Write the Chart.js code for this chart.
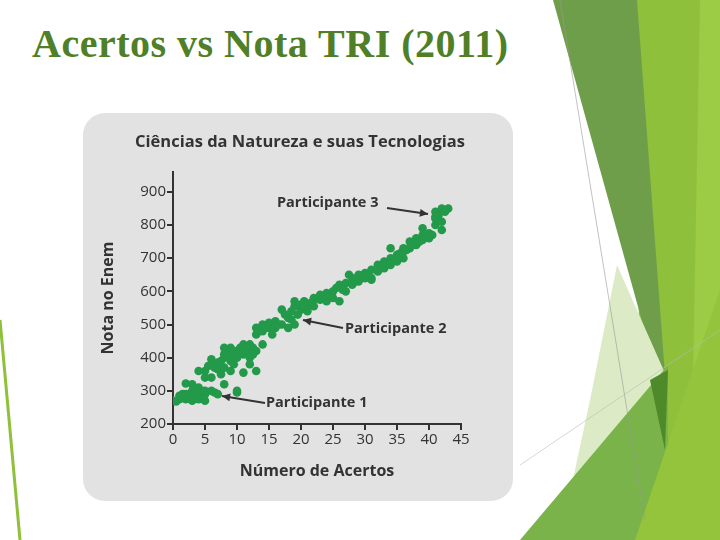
<!DOCTYPE html>
<html><head><meta charset="utf-8">
<script src="https://cdn.jsdelivr.net/npm/chart.js@4/dist/chart.umd.min.js"></script>
<style>
html,body{margin:0;padding:0;background:#fff;width:720px;height:540px;overflow:hidden;position:relative;font-family:"Open Sans",sans-serif}
#bg{position:absolute;left:0;top:0}
#title{position:absolute;left:32px;top:20px;font-family:"Liberation Serif","DejaVu Serif",serif;font-weight:bold;font-size:40px;color:#4f7f27;white-space:nowrap;letter-spacing:0.5px}
#box{position:absolute;left:83px;top:113px;width:430px;height:388px;background:#e2e2e2;border-radius:22px}
#wrap{position:absolute;left:83px;top:113px;width:430px;height:388px}
</style></head><body>
<svg id="bg" width="720" height="540">
<polygon points="637,0 720,0 720,540 640,540" fill="#8fc03c"/>
<polygon points="700,0 720,0 720,540 690,540" fill="#9ccb45"/>
<polygon points="553,0 637,0 668,415" fill="#6f9e4a"/>
<polygon points="617,265 668,380 640,470 560,540 590,400" fill="#dcebc5"/>
<polygon points="520,540 668,365 668,540" fill="#79b349"/>
<polygon points="635,540 720,290 720,540" fill="#93c43c"/>
<polygon points="650,380 668,370 665,450" fill="#4f8a2a"/>
<line x1="560" y1="0" x2="645" y2="520" stroke="#999" stroke-width="0.6"/>
<line x1="520" y1="465" x2="720" y2="330" stroke="#bbb" stroke-width="0.6"/>
<line x1="0" y1="320" x2="20" y2="540" stroke="#8fc03c" stroke-width="3"/>
</svg>
<div id="title">Acertos vs Nota TRI (2011)</div>
<div id="box"></div>
<div id="wrap"><canvas id="c" width="430" height="388"></canvas></div>
<script>
const acertos=[0,0.5,1,1,1.5,2,2,2.5,2,3,3,3,3.5,4,4,4,4.5,5,5,5,4,5,5,5.5,6,6,6,6.5,7,7,7,7.5,8,8,8,8,8.5,9,9,9,9,9.5,10,10,10,10,10.5,11,11,11,11.5,12,12,12,12.5,13,13,13,13,13.5,14,14,14,15,15,15.5,16,16,17,17,17.5,18,18,18.5,19,19,19,19.5,20,20,20.5,21,21,22,22,22,23,23,24,24,25,25,25.5,26,26,27,27,27.5,28,28,29,29,30,30,31,31,31,32,32,33,33,34,34,34,35,35,36,36,36,37,37,38,38,39,39,39,40,40,41,41,41,41.5,42,42,42,43,42.5,
 1.5,3.5,6.5,7.5,8.5,9.5,10.5,11.5,12.5,14.5,16.5,18.5,20.5,21.5,23.5,24.5,26.5,28.5,29.5,30.5,32.5,33.5,35.5,36.5,37.5,38.5,40.5,41,9,11,6,8];
const notas=[270,268,275,285,280,290,275,285,322,320,300,270,280,290,275,310,300,270,290,300,360,360,340,375,380,340,300,295,290,385,365,350,400,430,320,370,420,430,410,390,360,380,300,295,420,400,430,440,410,355,420,440,400,380,430,420,360,470,490,480,500,440,480,505,490,470,510,490,545,500,530,520,490,540,570,555,500,530,560,545,570,560,540,575,580,555,575,590,595,570,600,580,610,570,620,625,600,650,640,620,650,630,655,640,665,640,635,680,660,690,670,700,680,730,710,690,730,720,700,750,730,760,740,770,755,790,775,760,820,800,840,830,810,785,850,850,840,
 290,295,370,390,410,420,415,430,410,495,500,515,555,565,585,590,605,630,645,650,670,685,715,725,740,750,770,825,400,425,395,410];
const xTicks=[0,5,10,15,20,25,30,35,40,45];
const yTicks=[200,300,400,500,600,700,800,900];
const labels=[
 {text:'Participante 3',tx:277,ty:203,ax:[387,208],bx:[428,214]},
 {text:'Participante 2',tx:345,ty:329,ax:[343,328],bx:[303,320]},
 {text:'Participante 1',tx:266,ty:403,ax:[265,403],bx:[222,396]}
];
const pts=acertos.map((x,i)=>({x:x,y:notas[i]}));
const ink='#333';
const F='"Open Sans",sans-serif';
const annot={id:'annot',afterDatasetsDraw(ch){
 const c=ch.ctx;c.save();
 c.fillStyle=ink;c.font='bold 16.5px '+F;c.textAlign='center';c.textBaseline='middle';
 c.fillText('Ciências da Natureza e suas Tecnologias',300-83,142-113);
 c.font='bold 14.5px '+F;c.textAlign='left';
 labels.forEach(l=>{
  c.fillText(l.text,l.tx-83,l.ty-113);
  const a=[l.ax[0]-83,l.ax[1]-113],b=[l.bx[0]-83,l.bx[1]-113];
  c.strokeStyle=ink;c.lineWidth=2;c.beginPath();c.moveTo(a[0],a[1]);c.lineTo(b[0],b[1]);c.stroke();
  const ang=Math.atan2(b[1]-a[1],b[0]-a[0]);
  c.beginPath();c.moveTo(b[0],b[1]);
  c.lineTo(b[0]-9*Math.cos(ang-0.45),b[1]-9*Math.sin(ang-0.45));
  c.lineTo(b[0]-9*Math.cos(ang+0.45),b[1]-9*Math.sin(ang+0.45));
  c.closePath();c.fill();
 });
 c.restore();
}};
new Chart(document.getElementById('c'),{
 type:'scatter',
 data:{datasets:[{data:pts,backgroundColor:'#23994a',borderColor:'#23994a',pointRadius:4.3,pointBorderWidth:0}]},
 options:{responsive:false,animation:false,
  layout:{padding:{top:59,right:52,bottom:16,left:12}},
  plugins:{legend:{display:false},tooltip:{enabled:false}},
  scales:{
   x:{type:'linear',min:0,max:45,
    afterBuildTicks:s=>{s.ticks=xTicks.map(v=>({value:v}));},
    afterFit:s=>{s.height=61;},
    grid:{drawOnChartArea:false,drawTicks:true,tickLength:6,color:ink,lineWidth:2},
    border:{color:ink,width:2},
    ticks:{color:ink,font:{family:F,size:15},padding:1},
    title:{display:true,text:'Número de Acertos',color:ink,font:{family:F,size:16,weight:'bold'},padding:{top:4}}},
   y:{type:'linear',min:200,max:960,
    afterBuildTicks:s=>{s.ticks=yTicks.map(v=>({value:v}));},
    afterFit:s=>{s.width=78;},
    grid:{drawOnChartArea:false,drawTicks:true,tickLength:6,color:ink,lineWidth:2},
    border:{color:ink,width:2},
    ticks:{color:ink,font:{family:F,size:15},padding:1},
    title:{display:true,text:'Nota no Enem',color:ink,font:{family:F,size:16,weight:'bold'},padding:{bottom:2}}}
  }},
 plugins:[annot]
});
</script></body></html>
